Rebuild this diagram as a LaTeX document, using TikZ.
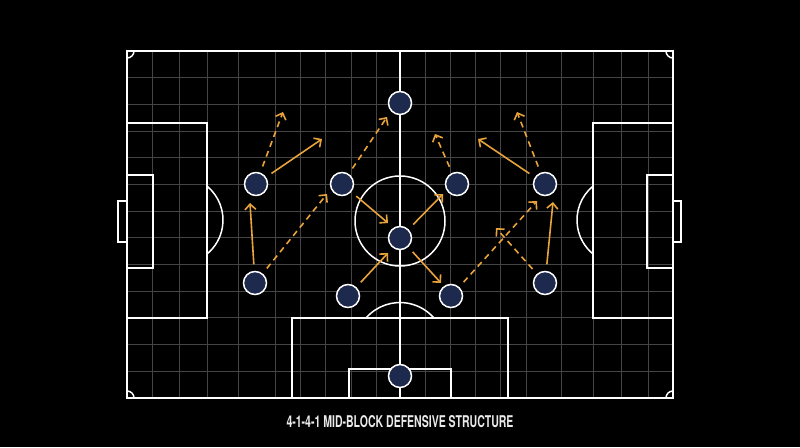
\documentclass[tikz,border=0pt]{standalone}
\usepackage{fontspec}
\usepackage{graphicx}
\setmainfont{TeX Gyre Heros}
\usetikzlibrary{arrows.meta}

\definecolor{pitchbg}{HTML}{000000}
\definecolor{gridgray}{HTML}{444444}
\definecolor{runorange}{HTML}{E8A33B}
\definecolor{playernavy}{HTML}{1D2A4D}

\tikzset{
  pitchline/.style={draw=white, line width=1.5pt},
  gridline/.style={draw=gridgray, line width=0.8pt},
  player/.style={circle, draw=white, line width=1.5pt, fill=playernavy, minimum size=23pt, inner sep=0pt},
  press/.style={draw=runorange, line width=1.6pt, shorten <=6.5pt, -{Straight Barb[length=5.5pt, width=11pt]}},
  cover/.style={press, dash pattern=on 6pt off 4.5pt},
}

\begin{document}
\begin{tikzpicture}[x=1pt, y=-1pt]
\def\pitchleft{127}
\def\pitchright{673}
\def\pitchtop{51}
\def\pitchbottom{398}
\useasboundingbox (0,0) rectangle (800,447);
\fill[pitchbg] (0,0) rectangle (800,447);

% GRID
\foreach \gx in {152,179,207,238,275,300,325,351,376,425,450,475,500,526,561,593,621,648}
  \draw[gridline] (\gx,\pitchtop) -- (\gx,\pitchbottom);
\foreach \gy in {77.7,104.3,131,157.7,184.3,211,237.7,264.3,291,317.7,344.3,371}
  \draw[gridline] (\pitchleft,\gy) -- (\pitchright,\gy);

% PITCH MARKINGS
\draw[pitchline] (\pitchleft,\pitchtop) rectangle (\pitchright,\pitchbottom);
\draw[pitchline] (400,\pitchtop) -- (400,\pitchbottom);
\draw[pitchline] (400,221) circle[radius=45];

\draw[pitchline] (127,123) rectangle (207,318); % LEFT BOX
\draw[pitchline] (127,175) rectangle (153,268);
\draw[pitchline] (118,201) rectangle (127,242);
\draw[pitchline] (207,186.1) arc[start angle=-50.5, end angle=50.5, radius=44];

\draw[pitchline] (593,123) rectangle (673,318); % RIGHT BOX
\draw[pitchline] (647,175) rectangle (673,268);
\draw[pitchline] (673,201) rectangle (681,242);
\draw[pitchline] (593,186.1) arc[start angle=230.5, end angle=129.5, radius=44];

\draw[pitchline] (292,318) rectangle (508,398); % BOTTOM BOX
\draw[pitchline] (349,369) rectangle (451,398);
\draw[pitchline] (366,318) arc[start angle=221, end angle=319, radius=45];

\draw[pitchline] (134,51) arc[start angle=0, end angle=90, radius=7]; % CORNERS
\draw[pitchline] (666,51) arc[start angle=180, end angle=90, radius=7];
\draw[pitchline] (134,398) arc[start angle=0, end angle=-90, radius=7];
\draw[pitchline] (666,398) arc[start angle=180, end angle=270, radius=7];

% PLAYERS
\node[player] (fw) at (400,103) {};
\node[player] (lw) at (256,184) {};
\node[player] (lcm) at (342,184) {};
\node[player] (rcm) at (457,184) {};
\node[player] (rw) at (545,184) {};
\node[player] (dm) at (400,238) {};
\node[player] (lb) at (255,283) {};
\node[player] (lcb) at (348,296) {};
\node[player] (rcb) at (451,296) {};
\node[player] (rb) at (545,283) {};
\node[player] (gk) at (400,376) {};

% RUNS
\coordinate (lbup) at (250,203);
\coordinate (lbin) at (327,194);
\coordinate (lwup) at (283,112);
\coordinate (lwin) at (322,139);
\coordinate (lcmup) at (387,117);
\coordinate (lcmin) at (388,223);
\coordinate (lcbin) at (388,253);
\coordinate (dmright) at (443,194);
\coordinate (dmdown) at (441,283);
\coordinate (rcbout) at (537,201);
\coordinate (rbin) at (496,228);
\coordinate (rbup) at (553,202);
\coordinate (rcmup) at (435,134);
\coordinate (rwin) at (478,139);
\coordinate (rwup) at (517,112);

\draw[press] (lb) -- (lbup);
\draw[cover] (lb) -- (lbin);
\draw[cover] (lw) -- (lwup);
\draw[press] (lw) -- (lwin);
\draw[cover] (lcm) -- (lcmup);
\draw[press] (lcm) -- (lcmin);
\draw[press] (lcb) -- (lcbin);
\draw[press] (dm) -- (dmright);
\draw[press] (dm) -- (dmdown);
\draw[cover] (rcb) -- (rcbout);
\draw[cover] (rb) -- (rbin);
\draw[press] (rb) -- (rbup);
\draw[cover] (rcm) -- (rcmup);
\draw[press] (rw) -- (rwin);
\draw[cover] (rw) -- (rwup);

\node[text=white!92!black] (caption) at (400,421.5) {\resizebox{227pt}{12pt}{\bfseries 4-1-4-1 MID-BLOCK DEFENSIVE STRUCTURE}};
\end{tikzpicture}
\end{document}
